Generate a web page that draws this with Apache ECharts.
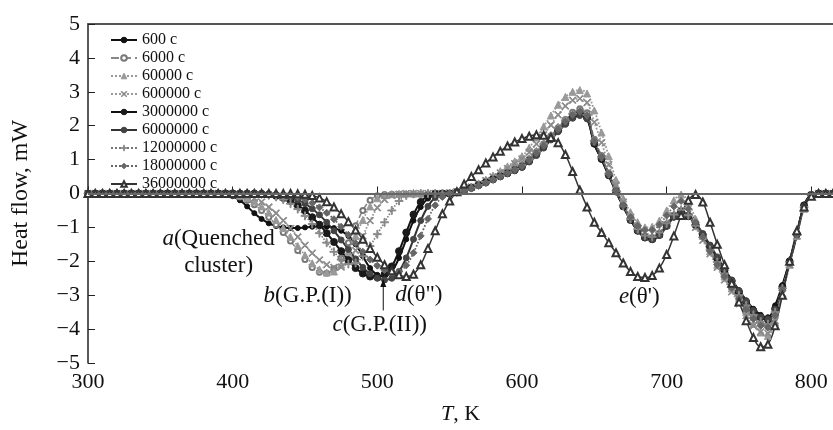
<!DOCTYPE html>
<html>
<head>
<meta charset="utf-8">
<script src="https://cdn.jsdelivr.net/npm/echarts@6/dist/echarts.min.js"></script>
<style>
  html, body { margin: 0; padding: 0; background: #fff; }
  #chart { width: 833px; height: 430px; }
</style>
</head>
<body>
<div id="chart"></div>
<script>
// Temperature grid, K
const temperature = [
  300,305,310,315,320,325,330,335,340,345,
  350,355,360,365,370,375,380,385,390,395,
  400,405,410,415,420,425,430,435,440,445,
  450,455,460,465,470,475,480,485,490,495,
  500,505,510,515,520,525,530,535,540,545,
  550,555,560,565,570,575,580,585,590,595,
  600,605,610,615,620,625,630,635,640,645,
  650,655,660,665,670,675,680,685,690,695,
  700,705,710,715,720,725,730,735,740,745,
  750,755,760,765,770,775,780,785,790,795,
  800,805,810,815
];

// Heat flow, mW, one array per ageing time
const flow600 = [
  0,0,0,0,0,0,0,0,0,0,
  0,0,0,0,0,0,0,0,-0.01,-0.03,
  -0.08,-0.2,-0.38,-0.58,-0.75,-0.88,-0.96,-1.0,-1.02,-1.02,
  -1.0,-0.98,-0.97,-0.98,-1.02,-1.1,-1.25,-1.5,-1.85,-2.2,
  -2.4,-2.45,-2.3,-1.9,-1.35,-0.8,-0.4,-0.15,-0.04,0,
  0.0,0.04,0.1,0.17,0.25,0.33,0.42,0.51,0.6,0.68,
  0.78,0.95,1.15,1.38,1.62,1.85,2.07,2.25,2.33,2.2,
  1.45,1.0,0.52,0.05,-0.38,-0.78,-1.08,-1.27,-1.32,-1.2,
  -0.92,-0.66,-0.52,-0.65,-0.9,-1.2,-1.55,-1.9,-2.25,-2.55,
  -2.85,-3.15,-3.4,-3.58,-3.65,-3.3,-2.7,-2.0,-1.2,-0.35,
  -0.04,0,0,0
];
const flow6000 = [
  0,0,0,0,0,0,0,0,0,0,
  0,0,0,0,0,0,0,0,0,-0.01,
  -0.04,-0.1,-0.2,-0.33,-0.5,-0.7,-0.92,-1.15,-1.4,-1.68,
  -1.95,-2.18,-2.32,-2.35,-2.22,-1.9,-1.45,-0.95,-0.5,-0.2,
  -0.07,-0.03,-0.02,-0.02,-0.02,-0.02,-0.02,-0.02,-0.01,0,
  0.01,0.05,0.11,0.19,0.27,0.36,0.45,0.55,0.64,0.73,
  0.84,1.02,1.23,1.46,1.7,1.94,2.18,2.4,2.5,2.38,
  1.6,1.12,0.6,0.1,-0.35,-0.75,-1.05,-1.25,-1.3,-1.17,
  -0.9,-0.64,-0.5,-0.66,-0.95,-1.28,-1.65,-2.02,-2.38,-2.72,
  -3.05,-3.38,-3.65,-3.85,-3.92,-3.55,-2.85,-2.05,-1.2,-0.4,
  -0.05,0,0,0
];
const flow60000 = [
  0,0,0,0,0,0,0,0,0,0,
  0,0,0,0,0,0,0,0,0,-0.01,
  -0.02,-0.06,-0.13,-0.24,-0.38,-0.56,-0.78,-1.02,-1.28,-1.55,
  -1.82,-2.06,-2.24,-2.33,-2.3,-2.1,-1.72,-1.25,-0.78,-0.38,
  -0.14,-0.05,-0.02,-0.01,0,0,0,0,0,0,
  0.02,0.06,0.12,0.2,0.3,0.41,0.53,0.66,0.8,0.95,
  1.1,1.35,1.65,1.98,2.3,2.62,2.85,3.0,3.05,2.95,
  2.45,1.8,1.1,0.4,-0.15,-0.55,-0.85,-1.0,-0.98,-0.8,
  -0.5,-0.2,-0.03,-0.25,-0.75,-1.25,-1.7,-2.1,-2.45,-2.8,
  -3.15,-3.5,-3.85,-4.1,-4.2,-3.8,-3.0,-2.1,-1.25,-0.45,
  -0.07,0,0,0
];
const flow600000 = [
  0,0,0,0,0,0,0,0,0,0,
  0,0,0,0,0,0,0,0,0,0,
  -0.01,-0.03,-0.07,-0.14,-0.25,-0.4,-0.58,-0.8,-1.03,-1.28,
  -1.53,-1.76,-1.96,-2.1,-2.18,-2.17,-2.0,-1.68,-1.25,-0.8,
  -0.42,-0.18,-0.06,-0.02,0,0,0,0,0,0,
  0.02,0.06,0.12,0.19,0.28,0.38,0.49,0.61,0.74,0.88,
  1.02,1.22,1.46,1.73,2.02,2.32,2.58,2.75,2.8,2.68,
  2.1,1.5,0.85,0.25,-0.25,-0.7,-1.05,-1.27,-1.32,-1.2,
  -0.92,-0.65,-0.5,-0.68,-1.0,-1.38,-1.78,-2.18,-2.55,-2.9,
  -3.25,-3.6,-3.9,-4.08,-4.12,-3.75,-2.95,-2.1,-1.25,-0.45,
  -0.06,0,0,0
];
const flow3000000 = [
  0,0,0,0,0,0,0,0,0,0,
  0,0,0,0,0,0,0,0,0,0,
  0,0,0,0,-0.01,-0.03,-0.07,-0.13,-0.22,-0.35,
  -0.5,-0.7,-0.92,-1.17,-1.43,-1.7,-1.96,-2.2,-2.36,-2.45,
  -2.47,-2.38,-2.15,-1.7,-1.15,-0.62,-0.25,-0.07,-0.01,0,
  0.0,0.04,0.1,0.17,0.25,0.33,0.42,0.51,0.6,0.69,
  0.79,0.96,1.16,1.39,1.63,1.86,2.08,2.26,2.35,2.23,
  1.47,1.02,0.54,0.06,-0.38,-0.78,-1.1,-1.3,-1.35,-1.22,
  -0.95,-0.68,-0.54,-0.67,-0.92,-1.22,-1.57,-1.92,-2.27,-2.58,
  -2.9,-3.2,-3.46,-3.65,-3.72,-3.4,-2.75,-2.0,-1.2,-0.35,
  -0.04,0,0,0
];
const flow6000000 = [
  0,0,0,0,0,0,0,0,0,0,
  0,0,0,0,0,0,0,0,0,0,
  0,0,0,0,0,-0.01,-0.03,-0.06,-0.11,-0.19,
  -0.3,-0.45,-0.63,-0.85,-1.1,-1.37,-1.65,-1.93,-2.18,-2.37,
  -2.5,-2.55,-2.5,-2.3,-1.9,-1.35,-0.8,-0.38,-0.12,-0.02,
  0.0,0.03,0.08,0.15,0.23,0.31,0.4,0.49,0.58,0.67,
  0.77,0.93,1.12,1.34,1.58,1.82,2.04,2.22,2.3,2.2,
  1.5,1.05,0.56,0.08,-0.36,-0.77,-1.1,-1.3,-1.36,-1.24,
  -0.97,-0.7,-0.55,-0.65,-0.88,-1.18,-1.52,-1.87,-2.22,-2.55,
  -2.87,-3.18,-3.45,-3.64,-3.7,-3.42,-2.8,-2.05,-1.22,-0.38,
  -0.04,0,0,0
];
const flow12000000 = [
  0,0,0,0,0,0,0,0,0,0,
  0,0,0,0,0,0,0,0,0,0,
  0,0,0,0,-0.02,-0.05,-0.1,-0.18,-0.3,-0.46,
  -0.66,-0.9,-1.17,-1.45,-1.72,-1.95,-2.08,-2.05,-1.85,-1.55,
  -1.2,-0.85,-0.5,-0.22,-0.06,-0.01,0,0,0,0,
  0,0.04,0.1,0.17,0.25,0.34,0.43,0.53,0.63,0.73,
  0.84,1.02,1.23,1.46,1.7,1.94,2.16,2.35,2.44,2.32,
  1.55,1.08,0.58,0.08,-0.36,-0.75,-1.05,-1.24,-1.28,-1.15,
  -0.88,-0.62,-0.48,-0.64,-0.95,-1.3,-1.66,-2.02,-2.36,-2.68,
  -3.0,-3.3,-3.58,-3.78,-3.85,-3.5,-2.8,-2.02,-1.2,-0.4,
  -0.05,0,0,0
];
const flow18000000 = [
  0,0,0,0,0,0,0,0,0,0,
  0,0,0,0,0,0,0,0,0,0,
  0,0,0,0,0,0,-0.01,-0.03,-0.06,-0.11,
  -0.18,-0.28,-0.41,-0.57,-0.76,-0.98,-1.22,-1.47,-1.72,-1.95,
  -2.13,-2.26,-2.33,-2.3,-2.12,-1.75,-1.25,-0.75,-0.35,-0.1,
  0.0,0.03,0.08,0.15,0.23,0.32,0.41,0.5,0.6,0.7,
  0.81,0.98,1.18,1.41,1.65,1.89,2.12,2.32,2.42,2.3,
  1.55,1.08,0.58,0.08,-0.35,-0.7,-0.95,-1.08,-1.08,-0.92,
  -0.65,-0.38,-0.22,-0.45,-0.85,-1.28,-1.7,-2.1,-2.45,-2.78,
  -3.1,-3.42,-3.7,-3.9,-3.95,-3.6,-2.85,-2.05,-1.22,-0.42,
  -0.05,0,0,0
];
const flow36000000 = [
  0,0,0,0,0,0,0,0,0,0,
  0,0,0,0,0,0,0,0,0,0,
  0,0,0,0,0,0,0,0,0,-0.01,
  -0.02,-0.06,-0.13,-0.24,-0.4,-0.6,-0.83,-1.08,-1.35,-1.62,
  -1.88,-2.1,-2.28,-2.4,-2.45,-2.38,-2.1,-1.62,-1.1,-0.6,
  -0.22,0.05,0.28,0.5,0.7,0.9,1.08,1.25,1.4,1.52,
  1.62,1.69,1.73,1.72,1.65,1.5,1.15,0.65,0.1,-0.4,
  -0.85,-1.15,-1.45,-1.75,-2.05,-2.3,-2.45,-2.48,-2.42,-2.2,
  -1.8,-1.25,-0.65,-0.2,-0.03,-0.25,-0.85,-1.5,-2.1,-2.65,
  -3.2,-3.75,-4.25,-4.52,-4.45,-3.9,-3.0,-2.0,-1.1,-0.4,
  -0.08,0,0,0
];

const seriesNames = [
  '600 c', '6000 c', '60000 c', '600000 c', '3000000 c',
  '6000000 c', '12000000 c', '18000000 c', '36000000 c'
];
const seriesValues = [
  flow600, flow6000, flow60000, flow600000, flow3000000,
  flow6000000, flow12000000, flow18000000, flow36000000
];

const xTicks = [300, 400, 500, 600, 700, 800];

// Peak labels: [T, heat flow, text, alignment]
const peakLabels = [
  [390.3, -1.73, '{i|a}(Quenched\ncluster)', 'center'],
  [421.4, -3.03, '{i|b}(G.P.(I))', 'left'],
  [469.0, -3.89, '{i|c}(G.P.(II))', 'left'],
  [512.4, -3.0, '{i|d}(θ")', 'left'],
  [667.0, -3.04, '{i|e}(θ\')', 'left']
];
const arrowFrom = [504.1, -3.45];
const arrowTo = [504.1, -2.52];

const SERIF = '"Liberation Serif", "Times New Roman", serif';

const xMark = 'path://M0,1L1,0L5,4L9,0L10,1L6,5L10,9L9,10L5,6L1,10L0,9L4,5Z';
const plusMark = 'path://M4.4,0H5.6V4.4H10V5.6H5.6V10H4.4V5.6H0V4.4H4.4Z';

const styles = [
  { line: '#111', type: 'solid', width: 2, symbol: 'circle', size: 5, color: '#111' },
  { line: '#888', type: 'dashed', width: 1.6, symbol: 'emptyCircle', size: 5, color: '#777' },
  { line: '#999', type: 'dotted', width: 1.8, symbol: 'triangle', size: 7, color: '#999' },
  { line: '#999', type: 'dotted', width: 1.8, symbol: xMark, size: 7, color: '#8a8a8a' },
  { line: '#111', type: 'solid', width: 2, symbol: 'circle', size: 7, color: '#1a1a1a' },
  { line: '#333', type: 'solid', width: 2, symbol: 'circle', size: 6, color: '#444' },
  { line: '#777', type: 'dotted', width: 1.6, symbol: plusMark, size: 8, color: '#888' },
  { line: '#666', type: 'dotted', width: 1.8, symbol: 'diamond', size: 7, color: '#666' },
  { line: '#333', type: 'solid', width: 1.5, symbol: 'emptyTriangle', size: 7, color: '#333' }
];

const series = seriesNames.map((name, k) => {
  const st = styles[k];
  const s = {
    name: name,
    type: 'line',
    xAxisIndex: 0,
    yAxisIndex: 0,
    data: temperature.map((t, i) => [t, seriesValues[k][i]]),
    smooth: 0.4,
    symbol: st.symbol,
    symbolSize: st.size,
    showSymbol: true,
    lineStyle: { color: st.line, type: st.type, width: st.width },
    itemStyle: { color: st.color, borderColor: st.color, borderWidth: 1 },
    emphasis: { disabled: true },
    animation: false
  };
  if (k === 0) {
    s.markLine = {
      silent: true,
      symbol: ['none', 'none'],
      label: { show: false },
      lineStyle: { color: '#666', width: 2, type: 'solid' },
      data: [{ yAxis: 0 }],
      animation: false
    };
  }
  return s;
});

const chart = echarts.init(document.getElementById('chart'), null, { renderer: 'canvas' });

chart.setOption({
  backgroundColor: '#fff',
  animation: false,
  grid: { left: 88, right: 0, top: 24, bottom: 65, containLabel: false },
  legend: {
    data: seriesNames.map(n => ({ name: n, itemStyle: { borderWidth: 1 } })),
    orient: 'vertical',
    left: 105,
    top: 27,
    itemWidth: 26,
    itemHeight: 7,
    itemGap: 2,
    textStyle: { fontFamily: SERIF, fontSize: 16, color: '#111', lineHeight: 16 }
  },
  xAxis: [
    {
      type: 'value',
      position: 'bottom',
      min: 300,
      max: 815,
      interval: 100,
      name: '{i|T}, K',
      nameLocation: 'middle',
      nameGap: 40,
      nameTextStyle: {
        fontFamily: SERIF, fontSize: 22, color: '#111',
        rich: { i: { fontFamily: SERIF, fontSize: 22, fontStyle: 'italic', color: '#111' } }
      },
      axisLine: { lineStyle: { color: '#222', width: 1.5 } },
      axisTick: { inside: true, length: 7, customValues: xTicks, lineStyle: { color: '#222' } },
      axisLabel: { customValues: xTicks, fontFamily: SERIF, fontSize: 22, color: '#111', margin: 8 },
      splitLine: { show: false }
    },
    {
      type: 'value',
      position: 'top',
      min: 300,
      max: 815,
      axisLine: { show: true, lineStyle: { color: '#555', width: 2 } },
      axisTick: { show: false },
      axisLabel: { show: false },
      splitLine: { show: false }
    }
  ],
  yAxis: {
    type: 'value',
    min: -5,
    max: 5,
    interval: 1,
    name: 'Heat flow, mW',
    nameLocation: 'middle',
    nameGap: 55,
    nameTextStyle: { fontFamily: SERIF, fontSize: 24, color: '#111' },
    axisLine: { lineStyle: { color: '#222', width: 1.5 } },
    axisTick: { inside: true, length: 7, lineStyle: { color: '#222' } },
    axisLabel: {
      fontFamily: SERIF, fontSize: 22, color: '#111', margin: 8,
      formatter: v => String(v).replace('-', '\u2212')
    },
    splitLine: { show: false }
  },
  series: series
});

// Peak labels and the arrow are placed from data coordinates
const toPx = p => chart.convertToPixel({ xAxisIndex: 0, yAxisIndex: 0 }, p);
const graphics = peakLabels.map(([t, v, text, align]) => {
  const p = toPx([t, v]);
  return {
    type: 'text',
    x: p[0],
    y: p[1],
    z: 100,
    style: {
      text: text,
      fill: '#111',
      fontFamily: SERIF,
      fontSize: 23,
      lineHeight: 27,
      align: align,
      verticalAlign: 'middle',
      rich: { i: { fontFamily: SERIF, fontSize: 23, fontStyle: 'italic', fill: '#111' } }
    }
  };
});
const a0 = toPx(arrowFrom);
const a1 = toPx(arrowTo);
graphics.push({
  type: 'line', z: 100,
  shape: { x1: a0[0], y1: a0[1], x2: a1[0], y2: a1[1] + 6 },
  style: { stroke: '#111', lineWidth: 1 }
});
graphics.push({
  type: 'polygon', z: 100,
  shape: { points: [[a1[0], a1[1]], [a1[0] - 3, a1[1] + 8], [a1[0] + 3, a1[1] + 8]] },
  style: { fill: '#111' }
});
chart.setOption({ graphic: graphics });
</script>
</body>
</html>
